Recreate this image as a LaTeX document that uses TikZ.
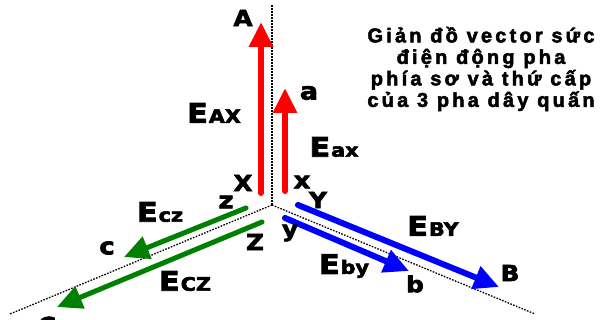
\documentclass[tikz,border=0pt]{standalone}
\usepackage{fontspec}
\setmainfont{Liberation Sans}
\newfontfamily\heavyfont[FakeBold=3, FakeStretch=1.12]{DejaVu Sans Bold}
\newfontfamily\titlefont[LetterSpace=16, FakeBold=2.5]{Liberation Sans Bold}
\usetikzlibrary{arrows.meta}

\definecolor{phasered}{RGB}{255,0,0}
\definecolor{phaseblue}{RGB}{0,0,255}
\definecolor{phasegreen}{RGB}{0,128,0}

% E with a small subscript on the baseline
\newcommand\Esub[1]{\fontsize{27}{27}\selectfont E\hspace{1pt}{\fontsize{18.5}{18.5}\selectfont #1}}

\tikzset{
  vec/.style={line width=6pt, line cap=round, -{Triangle[length=25pt,width=23pt]}},
  axis/.style={line width=1.3pt, dash pattern=on 1.6pt off 1.4pt},
  lbl/.style={font=\heavyfont\fontsize{22}{22}\selectfont, inner sep=0pt},
  sml/.style={font=\heavyfont\fontsize{23}{23}\selectfont, inner sep=0pt}
}

\begin{document}
\begin{tikzpicture}[x=1pt, y=-1pt]
\useasboundingbox (0,0) rectangle (605,320);

% neutral point and axes
\coordinate (O) at (272,205);
\coordinate (axA) at (272,5);
\coordinate (axB) at (535,314);
\coordinate (axC) at (10,314);
\draw[axis] (O) -- (axA);
\draw[axis] (O) -- (axB);
\draw[axis] (O) -- (axC);

% phase A / a
\coordinate (X) at (261,193);
\coordinate (A) at (261,22);
\coordinate (x) at (285,191);
\coordinate (a) at (285,88);
\draw[vec, phasered] (X) -- (A);
\draw[vec, phasered] (x) -- (a);

% phase B / b
\coordinate (Y) at (298,205);
\coordinate (B) at (499,287);
\coordinate (y) at (285,218);
\coordinate (b) at (409,271);
\draw[vec, phaseblue] (Y) -- (B);
\draw[vec, phaseblue] (y) -- (b);

% phase C / c
\coordinate (z) at (246,208);
\coordinate (c) at (124,257);
\coordinate (Z) at (262,222);
\coordinate (C) at (57,307);
\draw[vec, phasegreen, line width=5pt] (z) -- (c);
\draw[vec, phasegreen, line width=5pt] (Z) -- (C);

% end labels
\node[lbl] (lA) at (243,18) {A};
\node[sml, font=\heavyfont\fontsize{24}{24}\selectfont] (la) at (309,93) {a};
\node[lbl] (lB) at (510,273) {B};
\node[lbl] (lb) at (415,284) {b};
\node[lbl] (lC) at (47,325) {C};
\node[sml] (lc) at (107,248) {c};
\node[lbl] (lX) at (243,183) {X};
\node[sml] (lx) at (302,182) {x};
\node[lbl] (lY) at (318,200) {Y};
\node[lbl] (ly) at (290,233) {y};
\node[sml] (lz) at (226,202) {z};
\node[lbl] (lZ) at (255,242) {Z};

% vector names
\node[lbl] (EAX) at (214,113) {\Esub{AX}};
\node[lbl] (Eax) at (334,147) {\Esub{ax}};
\node[lbl] (EBY) at (433,226) {\Esub{BY}};
\node[lbl] (Eby) at (344,266) {\Esub{by}};
\node[lbl] (ECZ) at (185,281) {\Esub{CZ}};
\node[lbl] (Ecz) at (160,212) {\Esub{cz}};

% title
\node[align=center, inner sep=0pt, font=\titlefont\fontsize{20}{21.5}\selectfont] (title) at (481,69)
  {Giản đồ vector sức\\điện động pha\\phía sơ và thứ cấp\\của 3 pha dây quấn};

\end{tikzpicture}
\end{document}
